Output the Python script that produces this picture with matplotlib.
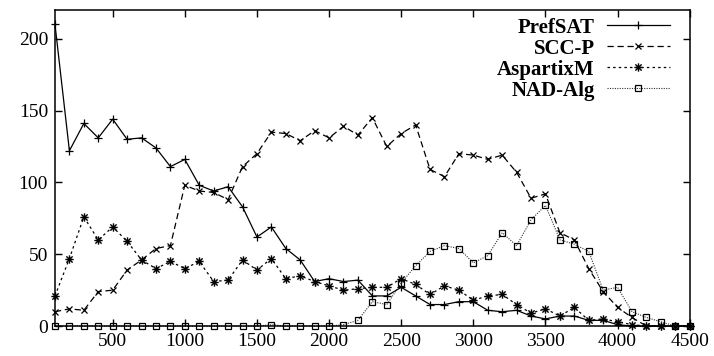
import numpy as np
import matplotlib
matplotlib.use("Agg")
import matplotlib.pyplot as plt
from matplotlib.path import Path

plt.rcParams["font.family"] = ["Liberation Serif", "DejaVu Serif"]

# number of arguments (x) and solver counts per method
x = list(range(100, 4600, 100))

prefsat = [210, 122, 141, 131, 144, 130, 131, 124, 111, 116,
           98, 94, 97, 83, 62, 69, 54, 46, 31, 33,
           31, 32, 21, 21, 27, 21, 15, 15, 17, 17,
           11, 10, 11, 7, 5, 7, 7, 4, 4, 1,
           0, 0, 0, 0, 0]
scc_p = [10, 12, 11, 24, 25, 39, 46, 54, 56, 98,
         94, 93, 88, 111, 120, 135, 134, 129, 136, 131,
         139, 133, 145, 125, 134, 140, 109, 104, 120, 119,
         116, 119, 107, 89, 92, 65, 60, 40, 24, 13,
         6, 0, 0, 0, 0]
aspartix = [21, 47, 76, 60, 69, 59, 46, 40, 45, 40,
            45, 31, 32, 46, 39, 47, 33, 35, 31, 28,
            25, 26, 27, 27, 33, 29, 22, 28, 25, 18,
            21, 22, 15, 9, 12, 7, 13, 4, 5, 3,
            1, 0, 0, 0, 0]
nad_alg = [0, 0, 0, 0, 0, 0, 0, 0, 0, 0,
           0, 0, 0, 0, 0, 1, 0, 0, 0, 0,
           1, 4, 17, 15, 30, 42, 52, 56, 54, 44,
           49, 65, 56, 74, 84, 60, 57, 52, 25, 27,
           10, 6, 3, 0, 0]

# gnuplot style asterisk: plus and cross on top of each other
star = Path([(-1, 0), (1, 0), (0, -1), (0, 1),
             (-0.75, -0.75), (0.75, 0.75), (-0.75, 0.75), (0.75, -0.75)],
            [Path.MOVETO, Path.LINETO] * 4)

fig = plt.figure(figsize=(7.14, 3.56), dpi=100)
ax = fig.add_axes([0.077, 0.084, 0.889, 0.888])

ax.plot(x, prefsat, "-", color="black", lw=0.9, marker="+", ms=6, mew=0.9,
        clip_on=False, label="PrefSAT")
ax.plot(x, scc_p, color="black", lw=0.9, ls=(0, (5, 3)), marker="x", ms=5,
        mew=0.9, clip_on=False, label="SCC-P")
ax.plot(x, aspartix, color="black", lw=0.9, ls=(0, (2, 2.5)), marker=star,
        ms=6, mew=1.0, clip_on=False, label="AspartixM")
ax.plot(x, nad_alg, color="#333333", lw=0.8, ls=(0, (1, 1.2)), marker="s",
        ms=5, mfc="none", mec="black", mew=0.9, clip_on=False, label="NAD-Alg")

ax.set_xlim(100, 4500)
ax.set_ylim(0, 220)
ax.set_xticks([500, 1000, 1500, 2000, 2500, 3000, 3500, 4000, 4500])
ax.set_yticks([0, 50, 100, 150, 200])
ax.tick_params(direction="in", top=True, right=True, length=5, width=1,
               labelsize=14, pad=5)
for s in ax.spines.values():
    s.set_linewidth(1.1)

leg = ax.legend(loc="upper right", bbox_to_anchor=(0.998, 1.035), frameon=False,
                markerfirst=False, handlelength=3.0, handletextpad=0.6,
                labelspacing=0.05, prop={"weight": "bold", "size": 15})

fig.savefig("out.png", dpi=100)
